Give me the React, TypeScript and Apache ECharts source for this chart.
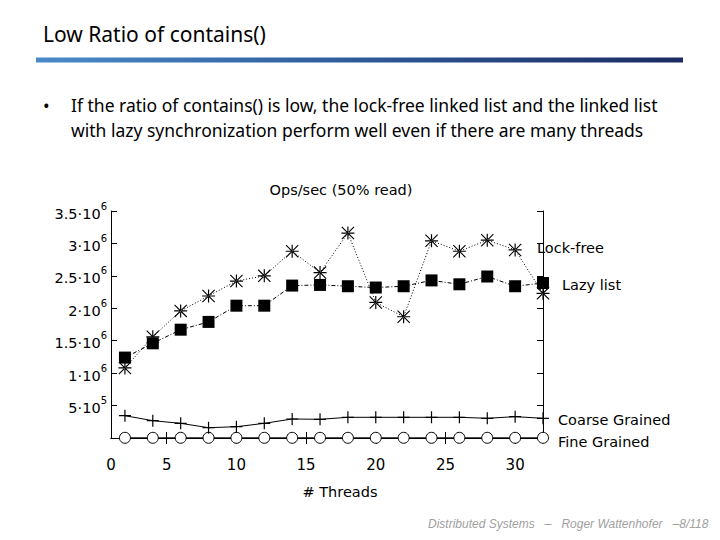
import React, { useEffect, useRef } from "react";
import * as echarts from "echarts";

const threads = [2, 4, 6, 8, 10, 12, 14, 16, 18, 20, 22, 24, 26, 28, 30, 32];
const lockFree = [1.08e6, 1.56e6, 1.96e6, 2.19e6, 2.42e6, 2.5e6, 2.88e6, 2.55e6, 3.16e6, 2.09e6, 1.87e6, 3.04e6, 2.88e6, 3.05e6, 2.9e6, 2.23e6];
const lazyList = [1.24e6, 1.46e6, 1.67e6, 1.79e6, 2.04e6, 2.04e6, 2.35e6, 2.36e6, 2.34e6, 2.32e6, 2.34e6, 2.43e6, 2.37e6, 2.49e6, 2.34e6, 2.39e6];
const coarseGrained = [3.44e5, 2.67e5, 2.26e5, 1.59e5, 1.74e5, 2.26e5, 2.93e5, 2.88e5, 3.19e5, 3.19e5, 3.19e5, 3.19e5, 3.19e5, 3.04e5, 3.29e5, 3.04e5];
const fineGrained = [3e3, 3e3, 3e3, 3e3, 3e3, 3e3, 3e3, 3e3, 3e3, 3e3, 3e3, 3e3, 3e3, 3e3, 3e3, 3e3];
const xTickValues = [5, 10, 15, 20, 25, 30];
const xLabelValues = [1, 5, 10, 15, 20, 25, 30];
const yTickLabels: Record<number, [string, string]> = {
  500000: ["5·10", "5"],
  1000000: ["1·10", "6"],
  1500000: ["1.5·10", "6"],
  2000000: ["2·10", "6"],
  2500000: ["2.5·10", "6"],
  3000000: ["3·10", "6"],
  3500000: ["3.5·10", "6"],
};

const F = "DejaVu Sans";
const CF = "14.5px 'DejaVu Sans'";
const PLUS = "path://M0,4.5H10V5.5H0Z M4.5,0H5.5V10H4.5Z";
const STAR =
  "path://M0,4.55H10V5.45H0Z M4.55,0H5.45V10H4.55Z M0,0.6L0.6,0L10,9.4L9.4,10Z M10,0.6L9.4,0L0,9.4L0.6,10Z";

const pairs = (ys: number[]) => threads.map((t, i) => [t, ys[i]]);

export default function App() {
  const ref = useRef<HTMLDivElement>(null);
  useEffect(() => {
    const chart = echarts.init(ref.current!, null, { renderer: "svg" });
    const axisCommon = {
      axisLine: { show: true, lineStyle: { color: "#000", width: 1 } },
      splitLine: { show: false },
    };
    chart.setOption({
      animation: false,
      backgroundColor: "#fff",
      grid: { left: 111, top: 211, right: 177, bottom: 102, containLabel: false },
      xAxis: [
        {
          type: "value",
          min: 1,
          max: 32,
          position: "bottom",
          ...axisCommon,
          axisTick: { show: true, inside: true, length: 6, customValues: xTickValues, lineStyle: { color: "#000" } },
          axisLabel: {
            show: true,
            customValues: xLabelValues,
            margin: 19,
            fontFamily: F,
            fontSize: 15,
            color: "#000",
            formatter: (v: number) => (v === 1 ? "0" : String(v)),
          },
        },
        {
          type: "value",
          min: 1,
          max: 32,
          position: "top",
          ...axisCommon,
          axisTick: { show: true, inside: true, length: 6, customValues: xTickValues, lineStyle: { color: "#000" } },
          axisLabel: { show: false },
        },
      ],
      yAxis: [
        {
          type: "value",
          min: 0,
          max: 3500000,
          interval: 500000,
          position: "left",
          ...axisCommon,
          axisTick: { show: true, inside: true, length: 6, lineStyle: { color: "#000" } },
          axisLabel: {
            show: true,
            margin: 4,
            color: "#000",
            formatter: (v: number) => {
              const l = yTickLabels[v];
              if (!l) return "";
              return "{a|" + l[0] + "}{b|" + l[1] + "}";
            },
            rich: {
              a: { fontFamily: F, fontSize: 14.5, color: "#000", lineHeight: 20, verticalAlign: "bottom" },
              b: { fontFamily: F, fontSize: 10, color: "#000", lineHeight: 20, verticalAlign: "top" },
            },
          },
        },
        {
          type: "value",
          min: 0,
          max: 3500000,
          interval: 500000,
          position: "right",
          ...axisCommon,
          axisTick: { show: true, inside: true, length: 6, lineStyle: { color: "#000" } },
          axisLabel: { show: false },
        },
      ],
      series: [
        {
          name: "Fine Grained",
          type: "line",
          data: pairs(fineGrained),
          clip: false,
          symbol: "circle",
          symbolSize: 11,
          itemStyle: { color: "#fff", borderColor: "#000", borderWidth: 1 },
          lineStyle: { color: "#000", width: 1, type: "solid" },
          z: 3,
        },
        {
          name: "Coarse Grained",
          type: "line",
          data: pairs(coarseGrained),
          clip: false,
          symbol: PLUS,
          symbolSize: 12,
          itemStyle: { color: "#000" },
          lineStyle: { color: "#000", width: 1, type: "solid" },
          z: 3,
        },
        {
          name: "Lazy list",
          type: "line",
          data: pairs(lazyList),
          clip: false,
          symbol: "rect",
          symbolSize: 12,
          itemStyle: { color: "#000" },
          lineStyle: { color: "#000", width: 1, type: [4, 2, 1, 2] },
          z: 4,
        },
        {
          name: "Lock-free",
          type: "line",
          data: pairs(lockFree),
          clip: false,
          symbol: STAR,
          symbolSize: 13,
          itemStyle: { color: "#000" },
          lineStyle: { color: "#000", width: 1, type: [1, 2] },
          z: 5,
        },
      ],
      graphic: [
        {
          type: "text",
          left: 43,
          top: 23,
          style: { text: "Low Ratio of contains()", font: "21px 'Noto Sans'", fill: "#000" },
        },
        {
          type: "rect",
          shape: { x: 36, y: 57.5, width: 647, height: 5 },
          style: {
            fill: new echarts.graphic.LinearGradient(0, 0, 1, 0, [
              { offset: 0, color: "#4a8ac9" },
              { offset: 0.5, color: "#2f5a98" },
              { offset: 1, color: "#1b2a63" },
            ]),
          },
        },
        {
          type: "text",
          left: 43,
          top: 96,
          style: { text: "•", font: "17.5px 'Noto Sans'", fill: "#000" },
        },
        {
          type: "text",
          left: 71,
          top: 96,
          style: {
            text: "If the ratio of contains() is low, the lock-free linked list and the linked list",
            font: "17.5px 'Noto Sans'",
            fill: "#000",
          },
        },
        {
          type: "text",
          left: 71,
          top: 121,
          style: {
            text: "with lazy synchronization perform well even if there are many threads",
            font: "17.5px 'Noto Sans'",
            fill: "#000",
          },
        },
        {
          type: "text",
          x: 341,
          y: 190,
          style: { text: "Ops/sec (50% read)", font: CF, fill: "#000", align: "center", verticalAlign: "middle" },
        },
        {
          type: "text",
          x: 340,
          y: 492,
          style: { text: "# Threads", font: CF, fill: "#000", align: "center", verticalAlign: "middle" },
        },
        {
          type: "text",
          x: 537,
          y: 248,
          style: { text: "Lock-free", font: CF, fill: "#000", verticalAlign: "middle" },
        },
        {
          type: "text",
          x: 562,
          y: 285,
          style: { text: "Lazy list", font: CF, fill: "#000", verticalAlign: "middle" },
        },
        {
          type: "text",
          x: 558,
          y: 420,
          style: { text: "Coarse Grained", font: CF, fill: "#000", verticalAlign: "middle" },
        },
        {
          type: "text",
          x: 558,
          y: 442,
          style: { text: "Fine Grained", font: CF, fill: "#000", verticalAlign: "middle" },
        },
        {
          type: "text",
          x: 428,
          y: 524,
          style: {
            text: "Distributed Systems   –   Roger Wattenhofer   –8/118",
            font: "italic 12px 'Liberation Sans'",
            fill: "#a0a0a0",
            verticalAlign: "middle",
          },
        },
      ],
    });
    return () => chart.dispose();
  }, []);
  return <div ref={ref} style={{ position: "absolute", left: 0, top: 0, width: 720, height: 540 }} />;
}
